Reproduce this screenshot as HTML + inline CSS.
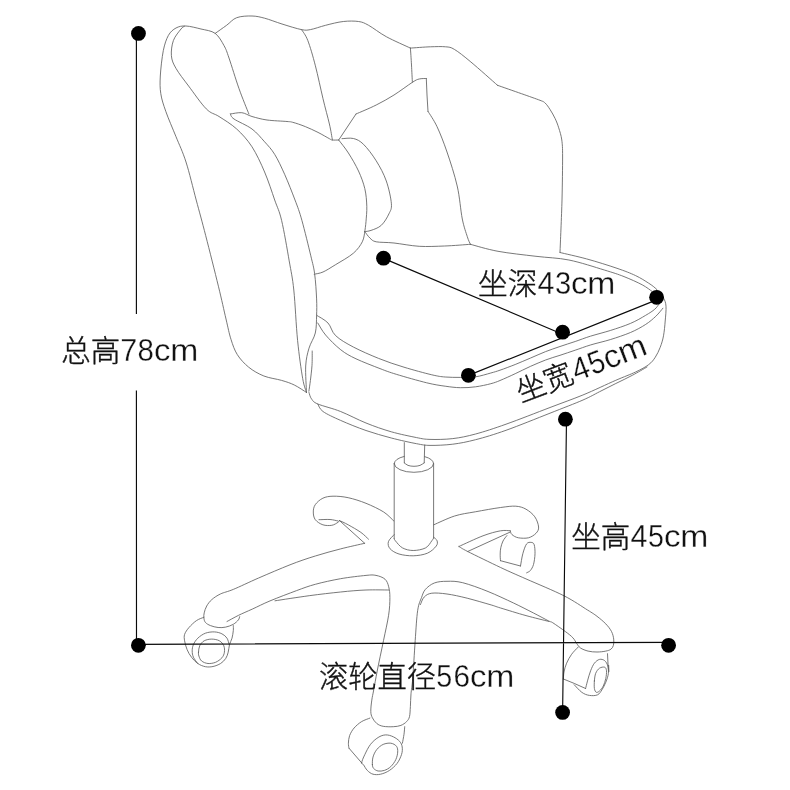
<!DOCTYPE html>
<html lang="zh-CN">
<head>
<meta charset="utf-8">
<title>椅子尺寸图</title>
<style>
html,body{margin:0;padding:0;background:#fff;}
body{width:790px;height:790px;overflow:hidden;}
svg{display:block;}
text{font-family:"Liberation Sans","Noto Sans CJK SC",sans-serif;font-weight:300;fill:#111;stroke:#111;stroke-width:0.4;}
.n{stroke:#fff;stroke-width:0.3;stroke-linejoin:round;}
</style>
</head>
<body>
<svg width="790" height="790" viewBox="0 0 790 790">
<rect width="790" height="790" fill="#fff"/>
<g fill="none" stroke="#606060" stroke-width="0.85" stroke-linecap="round" stroke-linejoin="round">
<path d="M306.5,392.5C304.5,391.2 298.4,387.0 294.3,385.0C290.2,383.0 286.7,381.9 281.6,380.4C276.5,378.9 269.4,378.2 263.9,376.0C258.4,373.8 253.1,370.8 248.7,367.2C244.3,363.6 240.2,359.2 237.3,354.6C234.4,350.0 232.9,345.3 231.0,339.4C229.1,333.5 228.1,327.9 226.0,319.0C223.9,310.1 221.8,300.1 218.4,286.2C215.0,272.3 209.4,250.0 205.7,235.6C202.0,221.2 199.5,212.3 196.2,200.0C192.9,187.7 189.4,172.6 186.0,162.0C182.6,151.4 179.4,145.1 176.0,136.7C172.6,128.3 168.3,118.6 165.8,111.4C163.3,104.2 161.7,99.6 160.8,93.7C159.9,87.8 159.9,83.2 160.3,76.0C160.7,68.8 162.0,57.4 163.3,50.6C164.7,43.8 166.3,39.2 168.4,35.4C170.5,31.6 173.1,29.6 176.0,28.0C178.9,26.4 181.8,25.8 186.0,26.0C190.2,26.2 196.1,27.8 201.0,29.0C205.9,30.2 211.4,30.6 215.2,33.4C219.0,36.2 221.7,41.5 224.0,45.6C226.3,49.7 226.5,50.8 229.0,58.0C231.5,65.2 235.7,79.3 239.0,88.6C242.3,97.9 247.2,109.8 248.9,114.0
M184.5,26.3C183.9,26.8 182.8,26.6 181.0,29.0C179.2,31.4 175.0,36.0 173.4,40.5C171.8,45.0 171.0,51.1 171.4,55.7C171.8,60.4 173.1,63.4 176.0,68.4C178.9,73.5 183.5,79.2 188.6,86.0C193.7,92.8 201.2,103.8 206.3,108.9C211.4,114.0 213.9,113.2 219.0,116.5C224.1,119.8 231.2,124.0 236.7,129.0C242.2,134.1 247.3,139.6 252.0,146.8C256.6,154.0 260.8,163.1 264.6,172.0C268.4,180.9 271.9,191.9 274.7,200.0C277.5,208.1 279.2,210.2 281.6,220.4C284.0,230.6 287.2,249.3 289.2,260.9C291.2,272.5 292.4,276.7 293.8,290.0C295.2,303.3 296.1,325.8 297.6,340.6C299.1,355.4 301.2,370.0 302.7,378.6C304.2,387.2 305.9,390.2 306.5,392.5
M215.2,33.4C217.1,32.0 223.0,27.9 226.6,25.3C230.2,22.7 232.5,19.2 236.7,17.7C240.9,16.1 247.3,15.9 252.0,16.0C256.6,16.1 259.6,16.9 264.6,18.2C269.6,19.5 275.9,22.1 282.0,24.0C288.1,25.9 296.8,28.7 301.5,29.6C306.2,30.5 306.4,30.3 310.4,29.6C314.4,28.9 320.1,26.7 325.6,25.3C331.1,23.9 337.8,22.1 343.3,21.5C348.8,20.9 354.3,20.9 358.5,21.5C362.7,22.1 364.0,22.8 368.6,25.3C373.2,27.8 379.3,32.9 386.3,36.7C393.3,40.5 406.4,46.2 410.4,48.1
M410.4,48.1C413.7,47.9 424.5,47.0 430.4,46.8C436.3,46.6 441.6,46.4 445.6,46.8C449.6,47.2 450.2,46.9 454.4,49.4C458.6,51.9 463.7,56.0 470.9,62.0C478.1,68.0 493.1,81.4 497.5,85.3
M497.5,85.3C501.5,86.7 514.4,91.2 521.5,93.7C528.6,96.2 536.1,98.8 540.0,100.3C543.9,101.8 543.4,101.5 545.1,103.0C546.8,104.5 548.4,107.0 550.1,109.6C551.8,112.2 553.8,115.7 555.2,118.7C556.6,121.7 557.6,124.2 558.7,127.8C559.8,131.3 561.1,135.1 561.8,140.0C562.4,144.9 562.6,147.0 562.6,157.0C562.6,167.0 562.4,184.1 562.0,200.0C561.6,215.9 560.3,243.8 560.0,252.5
M301.5,29.6C302.6,31.4 305.5,34.5 307.8,40.5C310.1,46.5 312.9,56.1 315.4,65.8C317.9,75.5 320.7,89.0 323.0,98.7C325.3,108.4 327.8,117.1 329.4,124.0C331.0,130.9 331.9,137.3 332.4,140.0
M410.4,48.1C410.6,50.9 411.2,59.3 411.5,65.0C411.8,70.7 412.2,79.4 412.4,82.3
M230.4,114.0C232.3,113.8 238.2,112.3 241.8,112.7C245.4,113.1 247.8,115.3 252.0,116.5C256.2,117.7 261.2,119.2 267.0,120.0C272.8,120.8 282.7,121.1 287.0,121.5C291.3,121.9 289.6,121.5 292.7,122.3C295.8,123.1 301.1,124.9 305.3,126.6C309.5,128.3 314.0,130.4 318.0,132.4C322.0,134.4 327.0,137.4 329.4,138.7C331.8,140.0 330.8,139.8 332.4,140.0C333.9,140.2 337.6,140.0 338.7,140.0
M230.4,114.0C231.0,114.8 230.4,116.5 234.0,119.0C237.6,121.5 246.9,125.2 252.0,129.0C257.1,132.8 260.8,137.6 264.6,141.8C268.4,146.0 271.3,148.9 274.7,154.4C278.1,159.9 281.4,167.1 284.8,174.7C288.2,182.3 292.1,192.4 295.0,200.0C297.9,207.6 299.3,211.1 301.9,220.4C304.5,229.7 308.7,247.0 310.8,255.8C312.9,264.7 313.6,266.3 314.6,273.5C315.6,280.7 316.3,291.9 316.6,298.9C316.9,305.9 316.8,309.6 316.6,315.3C316.4,321.0 316.6,327.5 315.3,333.0C314.0,338.5 310.6,342.7 309.0,348.2C307.4,353.7 306.1,358.6 305.7,366.0C305.3,373.4 306.4,388.1 306.5,392.5
M312.2,351.0C312.2,353.4 312.3,360.4 312.0,365.3C311.7,370.2 310.9,376.2 310.4,380.5C309.9,384.8 309.1,389.4 308.9,391.2
M338.7,140.0C340.3,142.2 345.1,147.8 348.4,153.0C351.7,158.2 355.8,165.1 358.5,171.0C361.2,176.9 363.4,182.7 364.8,188.6C366.2,194.5 366.6,200.8 366.8,206.3C367.0,211.8 366.3,217.3 366.0,221.5C365.7,225.7 365.0,229.9 364.8,231.6
M364.8,231.6C364.4,233.3 364.2,238.2 362.3,241.8C360.4,245.4 357.8,249.4 353.4,253.2C349.0,257.0 340.8,261.5 335.7,264.6C330.6,267.7 326.6,270.4 323.0,272.0C319.4,273.6 315.7,273.8 314.2,274.2
M342.0,138.7C343.9,138.7 349.8,137.6 353.4,138.5C357.0,139.4 359.7,140.6 363.5,144.3C367.3,148.0 372.4,154.7 376.2,160.8C380.0,166.9 383.8,173.8 386.3,181.0C388.8,188.2 391.0,198.3 391.4,203.8C391.8,209.3 390.6,210.3 388.9,213.9C387.2,217.5 384.3,222.6 381.3,225.3C378.3,228.1 373.8,229.4 371.0,230.4C368.2,231.4 365.8,231.4 364.8,231.6
M338.7,140.0L356.0,114.0
M356.0,114.0C359.4,112.5 369.9,108.2 376.2,105.0C382.5,101.8 388.0,98.8 394.0,95.0C400.0,91.2 408.2,85.0 412.4,82.3C416.6,79.6 416.9,79.6 419.2,79.0C421.5,78.4 425.1,78.6 426.3,78.5
M426.3,78.5L427.0,95.0L428.0,111.4
M428.0,111.4C429.5,113.9 433.8,119.8 437.0,126.6C440.2,133.4 443.6,142.1 447.0,152.0C450.4,161.9 454.6,174.8 457.2,186.0C459.8,197.2 460.6,210.6 462.3,219.0C464.0,227.4 466.0,232.5 467.3,236.7C468.6,240.9 469.9,243.0 470.4,244.3
M364.8,231.6C365.6,232.7 368.0,236.3 369.9,238.0C371.8,239.7 372.2,241.0 376.2,241.8C380.2,242.6 386.8,242.2 394.0,243.0C401.2,243.8 410.8,245.8 419.2,246.3C427.6,246.8 436.1,246.3 444.6,246.0C453.1,245.7 466.1,244.6 470.4,244.3
M470.4,244.3C475.0,245.5 487.1,249.3 498.0,251.3C508.9,253.3 524.2,254.9 536.0,256.3C547.8,257.8 557.5,257.7 568.9,260.0C580.3,262.3 595.1,267.2 604.3,270.0C613.5,272.8 617.7,274.1 624.0,276.6C630.3,279.1 637.5,282.3 642.2,284.8C646.9,287.3 650.4,290.3 652.0,291.4
M560.0,252.5C564.4,253.6 577.1,256.3 586.6,258.9C596.1,261.5 608.8,265.5 617.0,268.3C625.2,271.1 630.3,273.1 635.6,275.6C640.9,278.1 645.1,280.9 648.7,283.2C652.3,285.5 654.5,287.2 657.0,289.7C659.5,292.2 662.0,295.2 663.5,298.0C665.0,300.8 665.7,302.4 666.0,306.2C666.3,310.0 665.6,316.1 665.2,321.0C664.8,325.9 664.3,331.4 663.5,335.8C662.7,340.2 661.6,343.7 660.2,347.3C658.8,350.9 657.2,354.3 655.3,357.2C653.4,360.1 652.0,362.1 648.7,364.6C645.4,367.1 641.1,369.4 635.6,372.0C630.1,374.6 624.6,376.5 615.8,380.3C607.0,384.1 593.9,390.5 582.9,395.0C571.9,399.5 562.8,402.6 550.0,407.5C537.2,412.4 518.4,419.8 506.0,424.2C493.6,428.6 484.5,431.6 475.6,434.0C466.7,436.4 460.4,437.7 452.8,438.6C445.2,439.5 436.0,439.6 430.0,439.4C424.0,439.2 423.1,438.9 416.6,437.6C410.2,436.3 399.7,434.2 391.3,431.8C382.9,429.4 374.4,426.4 366.0,423.0C357.6,419.6 348.6,414.7 340.6,411.5C332.6,408.3 322.7,406.1 317.8,404.0C312.9,401.9 313.0,400.8 311.5,398.9C310.0,397.0 309.4,393.6 309.0,392.5
M647.0,367.0C644.5,368.4 637.5,372.6 632.3,375.3C627.1,378.1 621.3,380.8 615.8,383.5C610.3,386.2 604.9,389.1 599.4,391.8C593.9,394.6 591.2,396.4 583.0,400.0C574.8,403.6 562.8,408.1 550.0,413.2C537.2,418.2 518.4,425.9 506.0,430.3C493.6,434.7 484.5,437.4 475.6,439.7C466.7,442.0 460.4,443.2 452.8,444.2C445.2,445.1 436.0,445.5 430.0,445.4C424.0,445.3 423.1,444.9 416.6,443.7C410.2,442.5 399.7,440.2 391.3,438.0C382.9,435.8 374.4,433.4 366.0,430.5C357.6,427.6 347.8,423.6 340.6,420.4C333.4,417.2 326.8,414.2 323.0,411.5C319.2,408.8 318.7,405.2 317.8,404.0
M660.5,301.5C660.2,301.9 659.9,302.9 658.9,304.2C657.9,305.5 657.0,307.3 654.8,309.2C652.6,311.1 649.8,312.9 645.7,315.3C641.7,317.7 636.4,320.9 630.5,323.4C624.6,325.9 617.0,328.4 610.3,330.5C603.6,332.6 596.2,334.4 590.4,336.2C584.5,338.0 580.3,339.8 575.2,341.5C570.1,343.2 564.9,344.8 560.0,346.5C555.1,348.2 550.5,349.7 545.6,351.6C540.7,353.5 535.5,356.0 530.4,358.1C525.3,360.2 520.3,362.5 515.2,364.5C510.1,366.5 504.1,368.8 500.0,370.2C495.9,371.6 494.9,371.9 490.8,373.0C486.7,374.1 480.7,376.1 475.6,376.8C470.5,377.5 465.5,377.4 460.4,377.4C455.3,377.4 450.0,377.4 445.2,377.0C440.4,376.6 438.7,376.4 431.8,374.8C424.9,373.2 412.9,369.9 404.0,367.2C395.1,364.5 387.1,361.8 378.6,358.4C370.2,355.0 360.5,350.8 353.3,347.0C346.1,343.2 339.8,339.6 335.6,335.6C331.4,331.6 331.2,326.4 328.0,323.0C324.8,319.6 318.5,316.6 316.6,315.3
M662.9,308.2C661.7,309.6 658.7,313.6 655.8,316.3C652.9,319.0 649.9,321.7 645.7,324.4C641.5,327.1 636.4,330.0 630.5,332.5C624.6,335.0 617.0,337.5 610.3,339.6C603.6,341.7 596.2,343.2 590.4,345.0C584.5,346.8 580.3,348.5 575.2,350.2C570.1,351.9 564.9,353.7 560.0,355.3C555.1,356.9 550.5,358.1 545.6,360.0C540.7,361.9 535.5,364.1 530.4,366.4C525.3,368.7 520.3,371.3 515.2,373.7C510.1,376.1 504.1,378.8 500.0,380.5C495.9,382.2 494.9,382.6 490.8,383.7C486.7,384.8 480.7,386.1 475.6,386.8C470.5,387.5 465.5,387.8 460.4,387.7C455.3,387.6 450.8,387.0 445.2,386.2C439.6,385.4 434.8,384.8 426.7,382.8C418.6,380.8 404.1,376.7 396.3,374.3C388.5,371.9 386.7,371.2 380.0,368.6C373.3,366.0 362.5,361.9 356.0,358.8C349.5,355.7 345.9,353.8 340.8,349.8C335.7,345.8 329.4,339.5 325.6,335.0C321.8,330.5 319.1,325.0 317.8,323.0
M404.3,442.6L404.3,462.8
M424.7,445.0L424.2,462.8
M404.3,462.8C404.9,463.2 406.4,464.8 408.0,465.4C409.6,466.0 412.0,466.3 414.0,466.3C416.0,466.3 418.3,466.0 420.0,465.4C421.7,464.8 423.5,463.2 424.2,462.8
M394.2,463.5L394.2,538.5
M433.6,463.7L433.6,538.1
M394.2,463.8A19.7,8.5 0 0,0 433.6,463.8
M394.2,463.8A19.7,8.5 0 0,1 404.3,456.4
M424.7,456.6A19.7,8.5 0 0,1 433.6,463.8
M394.2,538.5C394.4,538.9 394.0,539.2 395.4,540.8C396.8,542.4 399.5,546.3 402.5,547.9C405.5,549.5 409.3,550.5 413.2,550.5C417.1,550.5 422.5,549.5 425.6,547.9C428.7,546.3 430.5,542.4 431.8,540.8C433.1,539.2 433.3,538.5 433.6,538.1
M394.2,534.6C393.2,535.8 389.1,539.3 388.4,541.7C387.7,544.1 388.3,546.8 390.1,548.8C391.9,550.8 395.1,552.8 399.0,554.0C402.9,555.2 408.5,555.9 413.2,555.8C417.9,555.7 423.6,554.8 427.4,553.2C431.2,551.6 434.6,548.2 436.2,546.1C437.8,544.0 437.5,542.3 437.1,540.8C436.7,539.3 434.2,537.8 433.6,537.2
M393.8,521.0C392.1,519.5 388.3,515.0 383.7,512.0C379.1,509.1 371.9,505.7 366.0,503.3C360.1,500.9 353.7,498.9 348.2,497.7C342.7,496.5 337.2,496.1 333.0,496.2C328.8,496.3 325.8,496.8 322.9,498.2C319.9,499.6 316.9,502.3 315.3,504.6C313.7,506.9 313.3,509.5 313.3,512.0C313.3,514.5 313.7,517.6 315.3,519.7C316.9,521.8 320.1,523.9 322.9,524.8C325.6,525.7 329.3,525.7 331.8,525.3C334.3,524.9 336.7,523.1 338.0,522.3C339.3,521.5 339.2,520.8 339.4,520.5
M319.0,519.7C320.8,519.7 326.8,519.3 330.0,519.5C333.2,519.7 336.7,520.8 338.0,521.0
M339.4,520.5L364.7,543.3
M339.4,520.5C340.9,521.2 344.6,522.8 348.2,524.8C351.8,526.8 357.5,530.0 360.9,532.4C364.3,534.8 367.2,538.1 368.5,539.2
M364.7,543.3C360.7,544.2 348.8,546.8 340.6,548.9C332.4,551.0 323.7,553.4 315.3,556.0C306.9,558.6 299.4,561.1 290.0,564.8C280.6,568.5 268.1,573.9 258.6,578.0C249.2,582.1 239.6,586.8 233.3,589.4C227.0,592.0 224.2,592.2 220.6,593.9C217.0,595.6 214.1,597.6 211.8,599.6C209.5,601.6 208.0,603.8 206.7,606.0C205.4,608.2 204.7,610.9 204.2,612.9C203.7,614.9 203.7,616.4 203.9,618.0C204.1,619.6 204.3,621.1 205.4,622.4C206.5,623.7 208.4,624.8 210.5,625.6C212.6,626.5 215.6,627.2 218.1,627.5C220.6,627.8 223.2,627.6 225.7,627.1C228.2,626.6 231.2,625.5 233.3,624.3C235.4,623.1 237.4,621.2 238.4,619.9C239.4,618.6 239.4,617.2 239.6,616.7
M227.0,621.5C228.9,620.5 234.2,617.5 238.4,615.4C242.6,613.3 247.0,611.5 252.3,609.1C257.6,606.7 262.6,604.0 270.0,600.9C277.4,597.8 289.1,593.4 296.6,590.6C304.2,587.8 308.0,586.3 315.3,584.3C322.6,582.3 332.2,580.2 340.6,578.7C349.1,577.2 360.1,576.0 366.0,575.4C371.9,574.8 372.8,574.8 376.0,575.4C379.2,576.0 382.9,577.3 385.0,579.2C387.1,581.1 387.9,583.7 388.7,586.8C389.5,589.9 389.9,592.9 389.9,597.6C389.9,602.4 389.7,608.1 388.6,615.3C387.5,622.5 385.4,631.3 383.5,640.6C381.6,649.9 378.8,662.8 377.2,671.0C375.6,679.2 374.6,685.1 373.7,690.0C372.8,694.9 372.3,696.5 371.8,700.1C371.3,703.7 370.7,708.5 370.8,711.5C370.9,714.5 371.4,715.8 372.4,717.8C373.4,719.8 375.0,722.1 376.8,723.5C378.6,724.9 380.4,725.8 383.2,726.3C385.9,726.8 390.4,726.9 393.3,726.7C396.2,726.6 398.7,726.2 400.9,725.4C403.1,724.5 405.2,723.1 406.6,721.6C408.0,720.1 408.9,719.1 409.5,716.6C410.1,714.1 410.1,710.3 410.4,706.5C410.6,702.7 410.6,698.4 411.0,693.8C411.4,689.1 412.0,687.5 412.7,678.6C413.4,669.7 414.4,652.0 415.2,640.6C416.0,629.2 416.6,617.5 417.7,610.3C418.8,603.1 420.2,601.1 421.5,597.6C422.8,594.1 423.3,591.8 425.4,589.4C427.5,587.0 430.7,584.4 434.3,583.0C437.9,581.6 442.3,581.3 447.0,581.3C451.7,581.2 455.9,581.0 462.7,582.7C469.5,584.4 479.6,588.1 488.0,591.5C496.4,594.9 505.7,599.3 513.3,602.9C520.9,606.5 527.6,610.0 533.5,613.0C539.4,616.0 545.5,619.4 548.7,621.0C551.9,622.6 549.9,621.0 552.7,622.7C555.5,624.5 561.9,629.0 565.3,631.5C568.7,634.0 571.0,635.8 572.9,637.8C574.8,639.8 575.4,641.8 576.7,643.5C578.0,645.2 578.6,646.7 580.5,648.0C582.4,649.3 585.4,650.4 588.1,651.1C590.9,651.8 594.0,652.0 597.0,652.0C600.0,652.0 603.5,651.6 605.8,651.1C608.1,650.6 609.6,650.2 610.9,649.2C612.2,648.2 612.9,647.1 613.4,645.4C613.9,643.7 614.0,641.4 613.7,639.1C613.4,636.8 612.8,634.0 611.5,631.5C610.2,629.0 608.2,626.4 605.8,623.9C603.4,621.4 600.0,618.6 597.0,616.3C594.0,614.0 593.0,613.4 587.5,610.0C582.0,606.6 574.2,601.0 564.0,595.8C553.8,590.6 536.6,583.6 526.0,578.9C515.4,574.2 510.3,572.1 500.6,567.5C490.9,562.9 474.6,555.0 467.7,551.5C460.8,548.0 460.4,547.3 458.9,546.5
M275.0,600.8C280.7,599.9 298.3,597.2 309.2,595.7C320.1,594.2 331.1,593.0 340.6,592.0C350.1,591.0 358.0,590.3 366.0,590.0C374.0,589.7 384.9,590.0 388.7,590.0
M420.4,604.6C421.0,603.3 422.3,598.9 424.2,597.0C426.1,595.1 428.0,593.7 431.8,593.2C435.6,592.7 441.1,593.2 447.0,594.0C452.9,594.8 460.0,596.4 467.2,598.2C474.4,600.0 484.4,603.0 490.0,604.6C495.6,606.2 494.6,606.2 500.6,608.0C506.6,609.8 518.0,613.4 526.0,615.6C534.0,617.8 544.9,620.4 548.7,621.4
M433.8,524.8C437.3,523.3 447.7,518.2 454.6,516.0C461.5,513.8 467.6,513.2 475.3,511.8C483.0,510.4 493.9,508.4 500.6,507.5C507.4,506.6 511.6,505.9 515.8,506.2C520.0,506.5 522.8,507.4 526.0,509.2C529.2,511.0 532.7,513.8 534.8,516.8C536.9,519.8 538.4,524.2 538.6,527.0C538.8,529.8 537.7,531.5 536.0,533.3C534.3,535.1 531.4,537.0 528.5,537.8C525.6,538.5 521.1,538.3 518.4,537.8C515.6,537.3 513.4,535.8 512.0,534.6C510.6,533.4 510.6,531.4 510.3,530.8
M510.3,530.8C508.7,530.8 505.2,530.0 500.6,530.8C496.1,531.6 489.9,533.2 483.0,535.8C476.1,538.4 462.9,544.7 458.9,546.5
M467.7,551.5L510.3,532.0
M506.9,535.6C506.2,536.5 504.0,539.0 503.0,541.0C502.0,543.0 501.3,545.5 500.8,547.7C500.3,549.9 500.2,551.8 500.2,554.0C500.1,556.2 500.4,559.6 500.5,560.7
M500.5,560.7L520.5,566.0
M520.5,566.0C520.9,564.0 521.8,557.5 522.8,553.8C523.8,550.1 525.2,545.8 526.6,543.9C528.0,542.0 529.9,542.3 531.2,542.4C532.5,542.5 533.6,542.8 534.2,544.7C534.8,546.6 535.1,550.5 535.0,553.8C534.9,557.1 534.3,561.7 533.5,564.5C532.7,567.3 531.5,569.1 530.4,570.5C529.2,571.9 527.2,572.4 526.6,572.8
M203.9,617.3C202.7,617.8 199.1,618.8 196.6,620.5C194.1,622.2 191.0,625.2 189.0,627.5C187.0,629.8 185.3,632.2 184.6,634.4C183.9,636.6 184.2,638.3 184.6,640.8C185.0,643.3 185.9,646.9 187.1,649.6C188.2,652.3 189.7,654.9 191.5,657.2C193.3,659.5 195.5,661.9 197.8,663.5C200.1,665.1 202.9,666.2 205.4,666.7C207.9,667.2 210.5,667.0 213.0,666.5C215.5,666.0 218.5,664.8 220.6,663.5C222.7,662.2 224.4,660.4 225.7,658.5C227.0,656.6 227.6,654.5 228.2,652.2C228.8,649.9 228.9,646.9 229.5,644.6C230.1,642.3 231.4,640.5 232.0,638.2C232.6,635.9 233.1,632.7 233.3,630.6C233.5,628.5 233.3,626.4 233.3,625.6
M197.8,663.5C197.1,662.5 194.3,659.3 193.4,657.2C192.5,655.1 192.2,653.0 192.2,650.9C192.2,648.8 192.5,646.7 193.4,644.6C194.3,642.5 195.8,640.1 197.8,638.2C199.8,636.3 202.7,634.2 205.4,633.2C208.2,632.2 211.6,631.8 214.3,631.9C217.1,632.0 219.8,632.8 221.9,633.8C224.0,634.8 225.8,636.4 227.0,638.2C228.2,640.0 228.8,643.5 229.2,644.6
M198.5,652.2C198.6,650.5 198.8,647.7 199.7,645.8C200.6,643.9 202.2,641.9 204.2,640.8C206.2,639.7 209.3,639.1 211.8,639.1C214.3,639.1 217.4,639.7 219.4,640.8C221.4,641.9 223.0,643.9 223.8,645.8C224.6,647.7 224.7,650.2 224.4,652.2C224.1,654.2 223.4,656.1 221.9,657.8C220.4,659.5 217.9,661.3 215.6,662.3C213.3,663.2 210.3,663.7 208.0,663.5C205.7,663.3 203.1,662.2 201.6,661.0C200.1,659.8 199.4,657.5 198.9,656.0C198.4,654.5 198.4,653.9 198.5,652.2Z
M369.9,718.1C368.5,718.7 364.2,720.0 361.6,721.6C359.0,723.2 356.1,725.7 354.1,728.0C352.1,730.3 350.6,733.1 349.6,735.6C348.7,738.1 348.5,741.1 348.4,743.2C348.3,745.3 348.9,747.4 349.0,748.2
M349.0,748.2L361.6,762.8
M361.6,762.8C361.8,761.1 363.3,757.7 364.8,754.6C366.3,751.5 368.3,747.2 370.5,744.4C372.7,741.5 375.6,739.1 378.1,737.5C380.6,735.9 383.2,735.0 385.7,734.9C388.2,734.8 391.0,735.7 393.3,736.8C395.6,737.9 398.1,739.6 399.6,741.3C401.1,743.0 401.9,744.8 402.2,747.0C402.5,749.2 402.4,751.9 401.5,754.6C400.6,757.3 399.1,760.8 397.1,763.4C395.1,766.0 392.2,768.6 389.5,770.4C386.8,772.2 383.4,773.6 380.6,774.2C377.9,774.8 375.2,774.8 373.0,774.2C370.8,773.6 368.9,772.0 367.3,770.4C365.7,768.8 364.4,766.0 363.5,764.7C362.6,763.4 361.4,764.5 361.6,762.8Z
M372.4,764.7C372.3,762.8 372.3,759.6 373.0,757.1C373.7,754.6 375.1,751.6 376.8,749.5C378.5,747.4 380.9,745.4 383.2,744.4C385.5,743.4 388.6,742.9 390.8,743.2C393.0,743.5 395.4,744.8 396.5,746.3C397.6,747.8 397.8,749.8 397.7,752.0C397.6,754.2 396.9,757.2 395.8,759.6C394.7,762.0 392.7,764.8 390.8,766.6C388.9,768.4 386.5,769.7 384.4,770.4C382.3,771.1 379.9,771.3 378.1,771.0C376.3,770.7 374.6,769.5 373.7,768.5C372.8,767.5 372.5,766.6 372.4,764.7Z
M404.7,726.7C404.6,728.0 404.4,731.5 404.0,734.3C403.6,737.0 402.7,741.7 402.4,743.2
M578.0,647.3C576.9,648.5 573.5,651.6 571.6,654.3C569.7,656.9 567.9,660.2 566.6,663.2C565.3,666.2 564.5,669.4 564.0,672.0C563.5,674.6 563.5,677.8 563.4,679.0
M563.4,679.0L574.2,683.4L585.6,688.5
M585.6,688.5C585.9,687.2 586.7,683.9 587.5,680.9C588.3,677.9 589.5,673.8 590.6,670.8C591.8,667.8 592.9,665.1 594.4,663.2C595.9,661.3 597.8,659.8 599.5,659.4C601.2,659.0 603.2,659.5 604.6,660.6C606.0,661.7 607.1,663.6 607.7,665.7C608.3,667.8 608.7,670.5 608.4,673.3C608.1,676.0 606.9,679.5 605.8,682.2C604.7,684.9 603.4,687.6 602.0,689.7C600.6,691.8 599.7,693.8 597.6,694.8C595.5,695.8 592.0,695.8 589.4,695.4C586.8,695.0 584.3,694.1 581.8,692.3C579.3,690.5 575.5,686.0 574.2,684.7
M594.4,680.9C594.6,678.4 594.9,675.4 595.7,673.3C596.6,671.2 598.0,669.2 599.5,668.2C601.0,667.2 603.4,666.8 604.6,667.2C605.8,667.6 606.3,668.9 606.5,670.8C606.7,672.7 606.3,675.9 605.8,678.4C605.3,680.9 604.3,683.9 603.3,686.0C602.2,688.1 600.7,690.0 599.5,691.0C598.3,692.0 597.1,692.7 596.3,692.3C595.4,691.9 594.7,690.4 594.4,688.5C594.1,686.6 594.2,683.4 594.4,680.9Z
M607.5,653.7L608.1,665.7
M608.3,665.5L608.5,671.5M608.7,665.5L608.9,671.5"/>
</g>
<g fill="none" stroke="#0a0a0a" stroke-width="1.15">
<path d="M136.4,33.4L136.4,314M136.4,390.6L136.5,645M138.4,644.35L668.6,642.3M566.5,419.2L562.6,712.4M383.5,258.4L562.6,334.2M468.4,375.4L656.6,299.9"/>
</g>
<g fill="#000"><circle cx="138.45" cy="33.45" r="7.4"/><circle cx="138.4" cy="645.3" r="7.4"/><circle cx="668.6" cy="645.3" r="7.4"/><circle cx="562.6" cy="712.4" r="7.4"/><circle cx="565.4" cy="419.2" r="7.4"/><circle cx="383.5" cy="258.2" r="7.4"/><circle cx="562.6" cy="332.2" r="7.4"/><circle cx="656.6" cy="297.3" r="7.4"/><circle cx="468.4" cy="375.3" r="7.4"/></g>
<g id="txt" style="will-change:transform">
<text y="361" font-size="29.5"><tspan class="k" x="61.22" textLength="59.02" lengthAdjust="spacingAndGlyphs">总高</tspan><tspan class="n" x="120.20" y="361.10" font-size="32" textLength="17.02" lengthAdjust="spacingAndGlyphs">7</tspan><tspan class="n" x="137.53" y="361.10" font-size="32" textLength="16.39" lengthAdjust="spacingAndGlyphs">8</tspan><tspan class="n" x="154.12" y="361.10" font-size="32" textLength="16.41" lengthAdjust="spacingAndGlyphs">c</tspan><tspan class="n" x="170.25" y="361.10" font-size="32" textLength="28.05" lengthAdjust="spacingAndGlyphs">m</tspan></text>
<text y="294" font-size="29.5"><tspan class="k" x="478.08" textLength="59.56" lengthAdjust="spacingAndGlyphs">坐深</tspan><tspan class="n" x="537.47" y="294.10" font-size="32" textLength="16.92" lengthAdjust="spacingAndGlyphs">4</tspan><tspan class="n" x="554.88" y="294.10" font-size="32" textLength="16.20" lengthAdjust="spacingAndGlyphs">3</tspan><tspan class="n" x="571.13" y="294.10" font-size="32" textLength="16.51" lengthAdjust="spacingAndGlyphs">c</tspan><tspan class="n" x="587.25" y="294.10" font-size="32" textLength="28.05" lengthAdjust="spacingAndGlyphs">m</tspan></text>
<text y="546.8" font-size="29.5"><tspan class="k" x="571.34" textLength="59.08" lengthAdjust="spacingAndGlyphs">坐高</tspan><tspan class="n" x="630.47" y="546.90" font-size="32" textLength="16.92" lengthAdjust="spacingAndGlyphs">4</tspan><tspan class="n" x="648.12" y="546.90" font-size="32" textLength="15.90" lengthAdjust="spacingAndGlyphs">5</tspan><tspan class="n" x="664.13" y="546.90" font-size="32" textLength="16.51" lengthAdjust="spacingAndGlyphs">c</tspan><tspan class="n" x="680.25" y="546.90" font-size="32" textLength="28.05" lengthAdjust="spacingAndGlyphs">m</tspan></text>
<text y="686.5" font-size="29.5"><tspan class="k" x="319.03" textLength="117.10" lengthAdjust="spacingAndGlyphs">滚轮直径</tspan><tspan class="n" x="436.27" y="686.60" font-size="32" textLength="15.96" lengthAdjust="spacingAndGlyphs">5</tspan><tspan class="n" x="453.42" y="686.60" font-size="32" textLength="16.52" lengthAdjust="spacingAndGlyphs">6</tspan><tspan class="n" x="470.12" y="686.60" font-size="32" textLength="16.41" lengthAdjust="spacingAndGlyphs">c</tspan><tspan class="n" x="486.25" y="686.60" font-size="32" textLength="28.05" lengthAdjust="spacingAndGlyphs">m</tspan></text>
<text transform="rotate(-21 521 402.8)" y="402.8" font-size="29.5"><tspan class="k" x="521.00" textLength="58.50" lengthAdjust="spacingAndGlyphs">坐宽</tspan><tspan class="n" x="580.38" y="402.90" font-size="32" textLength="16.92" lengthAdjust="spacingAndGlyphs">4</tspan><tspan class="n" x="597.93" y="402.90" font-size="32" textLength="15.90" lengthAdjust="spacingAndGlyphs">5</tspan><tspan class="n" x="613.93" y="402.90" font-size="32" textLength="16.36" lengthAdjust="spacingAndGlyphs">c</tspan><tspan class="n" x="630.08" y="402.90" font-size="32" textLength="28.05" lengthAdjust="spacingAndGlyphs">m</tspan></text>
</g>
</svg>
</body>
</html>
